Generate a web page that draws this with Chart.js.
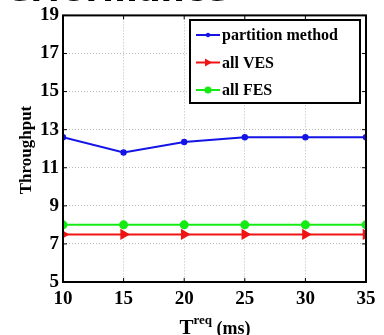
<!DOCTYPE html>
<html>
<head>
<meta charset="utf-8">
<script src="https://cdn.jsdelivr.net/npm/chart.js@4"></script>
<style>
  html, body { margin: 0; padding: 0; background: #fff; }
  #wrap { width: 384px; height: 335px; }
</style>
</head>
<body>
<div id="wrap"><canvas id="myChart" width="384" height="335"></canvas></div>
<script>
// data
const treq = [10, 15, 20, 25, 30, 35];
const partitionMethod = [12.6, 11.8, 12.35, 12.6, 12.6, 12.6];
const allVES = [7.5, 7.5, 7.5, 7.5, 7.5, 7.5];
const allFES = [8, 8, 8, 8, 8, 8];
const yTicks = [5, 7, 9, 11, 13, 15, 17, 19];

const SERIF = '"Liberation Serif", "Times New Roman", serif';

function pts(ys) {
  return treq.map((x, i) => ({ x: x, y: ys[i] }));
}

// frame, inward ticks, legend box, axis titles and cropped heading
const decorations = {
  id: 'decorations',
  afterDraw(chart) {
    const ctx = chart.ctx;
    const a = chart.chartArea;
    const xs = chart.scales.x, ys = chart.scales.y;
    ctx.save();

    // cropped heading at very top
    ctx.fillStyle = '#000';
    ctx.font = 'bold 34px "DejaVu Sans", sans-serif';
    ctx.textAlign = 'right';
    ctx.textBaseline = 'alphabetic';
    ctx.fillText('Performance', 228, 1);

    // box
    ctx.strokeStyle = '#000';
    ctx.lineWidth = 2;
    ctx.strokeRect(a.left, a.top, a.right - a.left, a.bottom - a.top);

    // inward tick marks
    ctx.lineWidth = 1;
    yTicks.forEach(v => {
      const y = ys.getPixelForValue(v);
      ctx.beginPath();
      ctx.moveTo(a.left, y); ctx.lineTo(a.left + 4, y);
      ctx.moveTo(a.right, y); ctx.lineTo(a.right - 4, y);
      ctx.stroke();
    });
    treq.forEach(v => {
      const x = xs.getPixelForValue(v);
      ctx.beginPath();
      ctx.moveTo(x, a.bottom); ctx.lineTo(x, a.bottom - 4);
      ctx.moveTo(x, a.top); ctx.lineTo(x, a.top + 4);
      ctx.stroke();
    });

    // legend
    const lx = 190, ly = 20, lw = 170, lh = 83;
    ctx.fillStyle = '#fff';
    ctx.fillRect(lx, ly, lw, lh);
    ctx.lineWidth = 2;
    ctx.strokeStyle = '#000';
    ctx.strokeRect(lx, ly, lw, lh);
    ctx.font = 'bold 16px ' + SERIF;
    ctx.textAlign = 'left';
    ctx.textBaseline = 'middle';
    chart.data.datasets.forEach((ds, i) => {
      const y = 35 + i * 27.5;
      ctx.strokeStyle = ds.borderColor;
      ctx.fillStyle = ds.borderColor;
      ctx.lineWidth = 2;
      ctx.beginPath();
      ctx.moveTo(lx + 6, y); ctx.lineTo(lx + 30, y);
      ctx.stroke();
      const cx = lx + 18;
      if (ds.pointStyle === 'triangle') {
        ctx.beginPath();
        ctx.moveTo(cx + 4, y); ctx.lineTo(cx - 3, y - 4); ctx.lineTo(cx - 3, y + 4);
        ctx.closePath(); ctx.fill();
      } else {
        ctx.beginPath();
        ctx.arc(cx, y, ds.pointRadius, 0, Math.PI * 2);
        ctx.fill();
      }
      ctx.fillStyle = '#000';
      ctx.fillText(ds.label, lx + 32, y + 1);
    });

    // y title
    ctx.save();
    ctx.translate(27, 150);
    ctx.rotate(-Math.PI / 2);
    ctx.font = 'bold 17px ' + SERIF;
    ctx.textAlign = 'center';
    ctx.textBaseline = 'middle';
    ctx.fillStyle = '#000';
    ctx.fillText('Throughput', 0, 0);
    ctx.restore();

    // x title: T^req (ms)
    ctx.fillStyle = '#000';
    ctx.textBaseline = 'alphabetic';
    ctx.textAlign = 'left';
    ctx.font = 'bold 21px ' + SERIF;
    const tW = ctx.measureText('T').width;
    ctx.font = 'bold 13px ' + SERIF;
    const rW = ctx.measureText('req').width;
    ctx.font = 'bold 18px ' + SERIF;
    const mW = ctx.measureText(' (ms)').width;
    let x0 = 215 - (tW + rW + mW) / 2;
    const base = 334;
    ctx.font = 'bold 21px ' + SERIF;
    ctx.fillText('T', x0, base);
    ctx.font = 'bold 13px ' + SERIF;
    ctx.fillText('req', x0 + tW, base - 10);
    ctx.font = 'bold 18px ' + SERIF;
    ctx.fillText(' (ms)', x0 + tW + rW, base);

    ctx.restore();
  }
};

const ctx = document.getElementById('myChart').getContext('2d');
new Chart(ctx, {
  type: 'line',
  data: {
    datasets: [
      {
        label: 'partition method',
        data: pts(partitionMethod),
        borderColor: 'rgb(20, 20, 230)',
        backgroundColor: 'rgb(20, 20, 230)',
        borderWidth: 2,
        pointStyle: 'circle',
        pointRadius: 2.2,
        tension: 0
      },
      {
        label: 'all VES',
        data: pts(allVES),
        borderColor: 'rgb(240, 20, 20)',
        backgroundColor: 'rgb(240, 20, 20)',
        borderWidth: 2,
        pointStyle: 'triangle',
        rotation: 90,
        pointRadius: 4.5,
        tension: 0
      },
      {
        label: 'all FES',
        data: pts(allFES),
        borderColor: 'rgb(20, 235, 20)',
        backgroundColor: 'rgb(20, 235, 20)',
        borderWidth: 2,
        pointStyle: 'circle',
        pointRadius: 3.5,
        tension: 0
      }
    ]
  },
  options: {
    responsive: false,
    animation: false,
    layout: { padding: { top: 7, right: 18, left: 0, bottom: 0 } },
    plugins: {
      legend: { display: false },
      tooltip: { enabled: false }
    },
    scales: {
      x: {
        type: 'linear',
        min: 10,
        max: 35,
        afterBuildTicks: s => { s.ticks = treq.map(v => ({ value: v })); },
        afterFit: s => { s.height = 53; },
        border: { display: false, dash: [1, 2] },
        grid: { color: '#bbbbbb', drawTicks: false },
        ticks: {
          color: '#000',
          padding: 6,
          maxRotation: 0,
          font: { family: SERIF, size: 19, weight: 'bold' }
        }
      },
      y: {
        min: 5,
        max: 19,
        afterBuildTicks: s => { s.ticks = yTicks.map(v => ({ value: v })); },
        afterFit: s => { s.width = 63; },
        border: { display: false, dash: [1, 2] },
        grid: { color: '#bbbbbb', drawTicks: false },
        ticks: {
          color: '#000',
          padding: 4,
          font: { family: SERIF, size: 19, weight: 'bold' }
        }
      }
    }
  },
  plugins: [decorations]
});
</script>
</body>
</html>
